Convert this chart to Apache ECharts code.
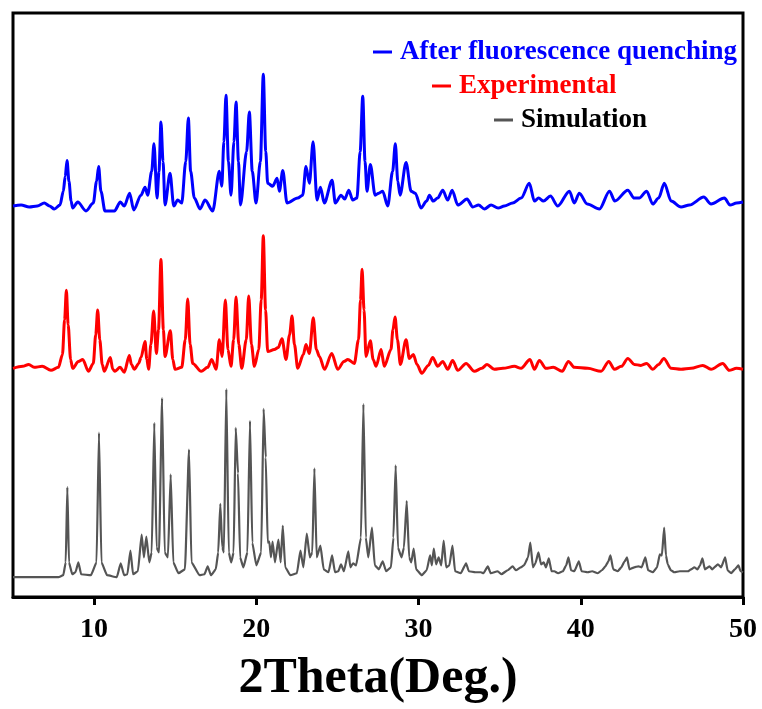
<!DOCTYPE html>
<html>
<head>
<meta charset="utf-8">
<script src="https://cdn.jsdelivr.net/npm/echarts@6/dist/echarts.min.js"></script>
<style>
  html, body { margin: 0; padding: 0; background: #fff; }
  #xrd { width: 762px; height: 709px; }
</style>
</head>
<body>
<div id="xrd"></div>
<script>
// 2theta (deg) / intensity (arbitrary, stacked)
let simulationPattern = [
  [5, 20], [7.8, 20], [8.1, 22], [8.25, 35], [8.35, 111], [8.45, 35], [8.65, 23], [8.85, 25], [9.03, 35], [9.2, 23],
  [9.8, 22], [10.15, 35], [10.3, 166], [10.45, 35], [10.8, 22], [11.4, 20], [11.64, 34], [11.85, 22], [12.05, 23], [12.24, 47],
  [12.4, 23], [12.7, 26], [12.93, 63], [13.07, 40], [13.22, 61], [13.4, 35], [13.55, 45], [13.71, 176], [13.85, 50], [14.0, 45],
  [14.19, 201], [14.35, 45], [14.55, 40], [14.72, 124], [14.88, 35], [15.2, 24], [15.6, 28], [15.85, 149], [16.0, 35], [16.5, 22],
  [16.8, 23], [17.0, 31], [17.2, 22], [17.5, 28], [17.65, 45], [17.78, 94], [17.9, 50], [18.0, 45], [18.15, 210], [18.3, 45],
  [18.45, 35], [18.6, 45], [18.73, 171], [18.87, 125], [19.0, 40], [19.2, 30], [19.45, 45], [19.61, 178], [19.75, 55], [20.0, 32],
  [20.3, 45], [20.45, 190], [20.58, 141], [20.7, 55], [20.8, 56], [20.9, 40], [21.0, 56], [21.15, 35], [21.36, 58], [21.5, 35],
  [21.63, 72], [21.78, 30], [22.1, 22], [22.5, 24], [22.72, 47], [22.9, 30], [23.11, 64], [23.3, 40], [23.45, 45], [23.58, 130],
  [23.72, 40], [23.95, 52], [24.15, 28], [24.45, 25], [24.67, 42], [24.85, 25], [25.05, 26], [25.22, 33], [25.4, 26], [25.67, 46],
  [25.8, 30], [25.96, 34], [26.15, 32], [26.45, 60], [26.6, 195], [26.75, 60], [26.9, 40], [27.13, 70], [27.3, 32], [27.55, 28],
  [27.79, 36], [28.0, 26], [28.3, 30], [28.45, 60], [28.59, 133], [28.73, 50], [28.95, 40], [29.1, 50], [29.27, 97], [29.42, 40],
  [29.55, 35], [29.7, 49], [29.85, 28], [30.2, 22], [30.5, 27], [30.71, 42], [30.82, 32], [30.94, 49], [31.08, 33], [31.24, 40],
  [31.4, 32], [31.55, 57], [31.7, 30], [31.9, 32], [32.09, 52], [32.25, 26], [32.6, 24], [32.93, 34], [33.1, 26], [33.5, 25],
  [33.85, 25], [34.0, 24], [34.27, 31], [34.45, 24], [34.88, 26], [35.1, 23], [35.5, 27], [35.8, 31], [36.0, 27], [36.3, 30],
  [36.5, 32], [36.75, 40], [36.89, 55], [37.05, 30], [37.2, 34], [37.39, 45], [37.55, 33], [37.72, 35], [37.85, 30], [38.03, 39],
  [38.2, 26], [38.37, 26], [38.6, 24], [38.9, 26], [39.1, 32], [39.24, 40], [39.4, 27], [39.6, 26], [39.88, 36], [40.05, 26],
  [40.43, 25], [40.7, 26], [41.05, 24], [41.3, 27], [41.52, 31], [41.7, 36], [41.83, 42], [42.0, 28], [42.28, 26], [42.5, 30],
  [42.7, 36], [42.85, 40], [43.0, 28], [43.3, 30], [43.55, 31], [43.75, 30], [43.98, 40], [44.15, 27], [44.44, 25], [44.7, 30],
  [44.87, 43], [45.0, 42], [45.14, 70], [45.25, 42], [45.36, 33], [45.55, 27], [45.77, 25], [46.1, 26], [46.6, 26], [46.8, 28],
  [47.0, 30], [47.2, 28], [47.35, 32], [47.5, 39], [47.65, 28], [47.93, 31], [48.1, 28], [48.45, 33], [48.65, 30], [48.9, 40],
  [49.05, 27], [49.27, 24], [49.5, 28], [49.72, 32], [49.85, 26], [50, 25]
];

let experimentalPattern = [
  [5, 231], [5.6, 233], [5.97, 235], [6.3, 232], [6.8, 233], [7.34, 229], [7.8, 232], [8.05, 245], [8.18, 280], [8.29, 310],
  [8.4, 275], [8.55, 240], [8.68, 231], [9.03, 238], [9.3, 240], [9.65, 228], [9.95, 236], [10.1, 265], [10.22, 290], [10.35, 260],
  [10.5, 235], [10.63, 228], [11.0, 242], [11.15, 230], [11.29, 228], [11.6, 232], [11.86, 227], [12.17, 244], [12.3, 235], [12.48, 230],
  [12.75, 236], [12.89, 242], [13.14, 258], [13.25, 240], [13.36, 230], [13.5, 255], [13.67, 289], [13.84, 246], [13.97, 270], [14.12, 341],
  [14.27, 270], [14.37, 243], [14.7, 269], [14.85, 240], [14.99, 230], [15.4, 232], [15.62, 260], [15.77, 301], [15.92, 255], [16.08, 236],
  [16.6, 228], [17.0, 232], [17.25, 240], [17.52, 230], [17.72, 260], [17.89, 243], [18.09, 300], [18.25, 250], [18.44, 233], [18.6, 260],
  [18.75, 303], [18.92, 255], [19.1, 231], [19.38, 260], [19.53, 304], [19.7, 255], [19.88, 233], [20.15, 250], [20.3, 300], [20.43, 365],
  [20.57, 290], [20.7, 248], [21.11, 250], [21.35, 252], [21.58, 261], [21.83, 240], [22.05, 265], [22.2, 284], [22.35, 255], [22.55, 231],
  [22.9, 245], [23.06, 255], [23.27, 246], [23.51, 282], [23.7, 250], [23.89, 243], [24.2, 230], [24.65, 246], [25.02, 230], [25.4, 238],
  [25.64, 240], [26.04, 236], [26.3, 260], [26.42, 300], [26.52, 331], [26.64, 290], [26.76, 243], [27.03, 259], [27.2, 240], [27.38, 233],
  [27.69, 250], [27.89, 233], [28.3, 250], [28.42, 270], [28.55, 283], [28.7, 260], [28.88, 235], [29.23, 260], [29.43, 241], [29.68, 245],
  [29.9, 235], [30.2, 226], [30.6, 234], [30.87, 242], [31.18, 233], [31.49, 238], [31.8, 230], [32.1, 239], [32.42, 229], [32.93, 236],
  [33.44, 228], [33.9, 231], [34.22, 235], [34.67, 230], [35.2, 231], [35.91, 233], [36.32, 231], [36.87, 240], [37.14, 230], [37.45, 239],
  [37.86, 231], [38.3, 232], [38.85, 228], [39.24, 238], [39.6, 232], [40.43, 231], [41.25, 228], [41.73, 238], [42.07, 230], [42.5, 233],
  [42.9, 241], [43.3, 235], [43.7, 234], [44.06, 236], [44.44, 230], [44.8, 235], [45.12, 241], [45.57, 231], [46.18, 230], [46.8, 231],
  [47.52, 234], [48.03, 230], [48.75, 236], [49.15, 229], [49.6, 231], [50, 230]
];

let quenchedPattern = [
  [5, 395], [5.5, 396], [6.0, 394], [6.5, 395], [6.93, 398], [7.25, 395], [7.55, 392], [7.9, 396], [8.1, 410], [8.22, 425],
  [8.33, 441], [8.45, 420], [8.58, 400], [8.68, 393], [8.99, 399], [9.5, 390], [9.95, 398], [10.15, 420], [10.28, 435], [10.42, 410],
  [10.67, 390], [11.25, 390], [11.62, 399], [11.86, 395], [12.19, 408], [12.44, 391], [12.89, 406], [13.14, 414], [13.3, 406], [13.55, 430],
  [13.69, 458], [13.88, 403], [14.0, 430], [14.12, 480], [14.25, 440], [14.37, 396], [14.68, 428], [14.91, 395], [15.15, 401], [15.4, 398],
  [15.65, 440], [15.81, 484], [15.95, 430], [16.18, 403], [16.53, 392], [16.84, 401], [17.31, 390], [17.72, 430], [17.87, 415], [18.0, 460],
  [18.13, 507], [18.28, 440], [18.44, 406], [18.62, 460], [18.75, 500], [18.9, 440], [19.02, 396], [19.4, 450], [19.57, 490], [19.75, 430],
  [19.98, 398], [20.25, 440], [20.43, 528], [20.58, 450], [20.7, 418], [21.01, 415], [21.28, 423], [21.42, 410], [21.63, 431], [21.89, 398],
  [22.55, 403], [22.86, 406], [23.06, 435], [23.27, 418], [23.5, 460], [23.74, 401], [23.95, 414], [24.19, 398], [24.67, 421], [24.87, 398],
  [25.22, 406], [25.45, 402], [25.7, 411], [25.94, 401], [26.2, 403], [26.4, 450], [26.56, 506], [26.7, 440], [26.82, 410], [27.03, 437],
  [27.32, 406], [27.55, 408], [27.79, 410], [28.1, 395], [28.4, 430], [28.57, 458], [28.72, 420], [28.86, 406], [29.23, 439], [29.54, 410],
  [29.8, 408], [30.15, 393], [30.5, 400], [30.67, 406], [30.9, 400], [31.18, 403], [31.49, 411], [31.8, 401], [32.07, 411], [32.42, 396],
  [32.99, 402], [33.34, 394], [33.7, 396], [34.06, 392], [34.47, 396], [34.9, 393], [35.29, 395], [35.8, 398], [36.32, 403], [36.83, 418],
  [37.14, 400], [37.4, 403], [37.7, 400], [38.13, 405], [38.58, 395], [39.3, 410], [39.6, 398], [39.91, 408], [40.4, 397], [41.15, 392],
  [41.77, 410], [42.1, 400], [42.9, 411], [43.3, 403], [43.6, 403], [44.06, 410], [44.44, 397], [44.8, 403], [45.15, 418], [45.57, 400],
  [46.18, 394], [46.7, 396], [47.58, 404], [48.03, 397], [48.85, 403], [49.2, 396], [49.6, 398], [50, 399]
];

let tickValues = [10, 20, 30, 40, 50];
let seriesNames = ['After fluorescence quenching', 'Experimental', 'Simulation'];
let seriesColors = ['#0000ff', '#ff0000', '#555555'];

let fontFamily = '"Liberation Serif", "Times New Roman", serif';

let chart = echarts.init(document.getElementById('xrd'), null, { renderer: 'canvas' });

let makeLegend = (i, left, top, textColor) => {
  return {
    data: [seriesNames[i]],
    left: left,
    top: top,
    padding: 0,
    icon: 'rect',
    itemWidth: 19,
    itemHeight: 3,
    selectedMode: false,
    textStyle: {
      color: textColor,
      fontFamily: fontFamily,
      fontWeight: 'bold',
      fontSize: 27,
      lineHeight: 30,
      padding: [0, 0, 0, 3]
    }
  };
};

let option = {
  animation: false,
  backgroundColor: '#fff',
  grid: {
    left: 13,
    right: 19,
    top: 13,
    bottom: 107,
    show: true,
    borderColor: '#000',
    borderWidth: 3,
    containLabel: false
  },
  legend: [
    makeLegend(0, 373, 37, seriesColors[0]),
    makeLegend(1, 432, 71, seriesColors[1]),
    makeLegend(2, 494, 105, '#000')
  ],
  xAxis: {
    type: 'value',
    min: 5,
    max: 50,
    name: '2Theta(Deg.)',
    nameLocation: 'middle',
    nameGap: 57,
    nameTextStyle: {
      color: '#000',
      fontFamily: fontFamily,
      fontWeight: 'bold',
      fontSize: 50
    },
    splitLine: { show: false },
    axisLine: { show: true, lineStyle: { color: '#000', width: 3 } },
    axisTick: {
      show: true,
      inside: false,
      length: 8,
      customValues: tickValues,
      lineStyle: { color: '#000', width: 3 }
    },
    axisLabel: {
      customValues: tickValues,
      margin: 19,
      color: '#000',
      fontFamily: fontFamily,
      fontWeight: 'bold',
      fontSize: 28
    }
  },
  yAxis: {
    type: 'value',
    min: 0,
    max: 590,
    show: false,
    splitLine: { show: false }
  },
  series: [
    {
      name: seriesNames[0],
      type: 'line',
      data: quenchedPattern,
      showSymbol: false,
      symbol: 'none',
      smooth: 0.3,
      smoothMonotone: 'x',
      color: seriesColors[0],
      lineStyle: { color: seriesColors[0], width: 3 }
    },
    {
      name: seriesNames[1],
      type: 'line',
      data: experimentalPattern,
      showSymbol: false,
      symbol: 'none',
      smooth: 0.3,
      smoothMonotone: 'x',
      color: seriesColors[1],
      lineStyle: { color: seriesColors[1], width: 3 }
    },
    {
      name: seriesNames[2],
      type: 'line',
      data: simulationPattern,
      showSymbol: false,
      symbol: 'none',
      smooth: 0.15,
      smoothMonotone: 'x',
      color: seriesColors[2],
      lineStyle: { color: seriesColors[2], width: 2.2 }
    }
  ]
};

chart.setOption(option);
</script>
</body>
</html>
